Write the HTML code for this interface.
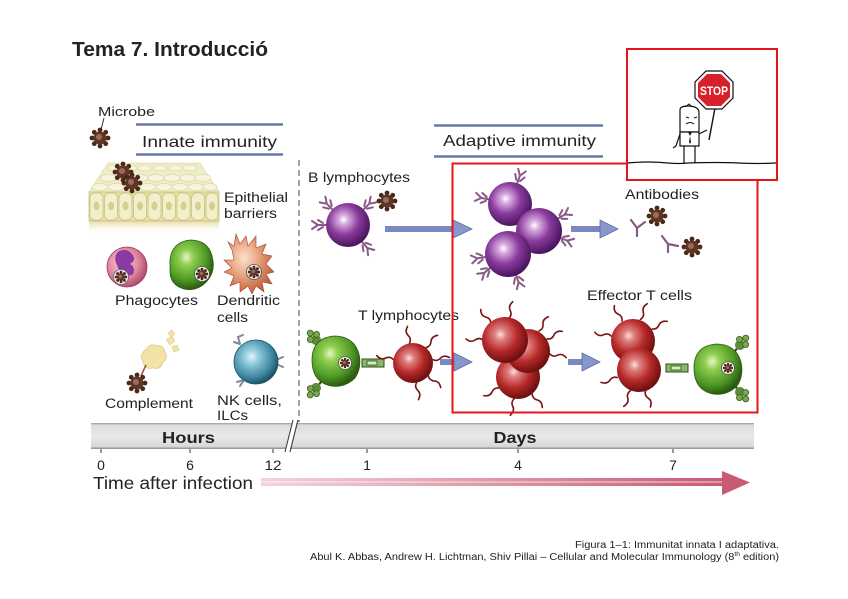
<!DOCTYPE html>
<html><head><meta charset="utf-8"><style>
html,body{margin:0;padding:0;background:#fff;}
svg{display:block;}
text{font-family:"Liberation Sans",sans-serif;fill:#222;}
</style></head><body>
<svg width="848" height="599" viewBox="0 0 848 599" xmlns="http://www.w3.org/2000/svg">
<defs>
<radialGradient id="gP" cx="0.4" cy="0.38" r="0.62"><stop offset="0" stop-color="#fff"/><stop offset="0.18" stop-color="#d6a8de"/><stop offset="0.55" stop-color="#8a3c9c"/><stop offset="1" stop-color="#4a1660"/></radialGradient>
<radialGradient id="gR" cx="0.4" cy="0.38" r="0.62"><stop offset="0" stop-color="#fbe0e0"/><stop offset="0.2" stop-color="#e08080"/><stop offset="0.6" stop-color="#b52828"/><stop offset="1" stop-color="#6e0f10"/></radialGradient>
<radialGradient id="gG" cx="0.38" cy="0.35" r="0.65"><stop offset="0" stop-color="#e6f8c8"/><stop offset="0.25" stop-color="#8fce50"/><stop offset="0.7" stop-color="#4f9a25"/><stop offset="1" stop-color="#2c5c12"/></radialGradient>
<radialGradient id="gB" cx="0.4" cy="0.38" r="0.62"><stop offset="0" stop-color="#e0f4f8"/><stop offset="0.3" stop-color="#8cc6d8"/><stop offset="0.75" stop-color="#3f88a2"/><stop offset="1" stop-color="#1f5668"/></radialGradient>
<radialGradient id="gK" cx="0.4" cy="0.4" r="0.62"><stop offset="0" stop-color="#f6d2dc"/><stop offset="0.6" stop-color="#e28aa2"/><stop offset="1" stop-color="#b04c6c"/></radialGradient>
<radialGradient id="gO" cx="0.4" cy="0.4" r="0.62"><stop offset="0" stop-color="#fbe0cc"/><stop offset="0.5" stop-color="#e8a07c"/><stop offset="1" stop-color="#c0603c"/></radialGradient>
<linearGradient id="gArr" x1="0" x2="1" y1="0" y2="0"><stop offset="0" stop-color="#f4d4dc"/><stop offset="1" stop-color="#c85a72"/></linearGradient>
<linearGradient id="gBar" x1="0" x2="0" y1="0" y2="1"><stop offset="0" stop-color="#9a9a9a"/><stop offset="0.08" stop-color="#dcdcdc"/><stop offset="0.5" stop-color="#e8e8e8"/><stop offset="0.9" stop-color="#dadada"/><stop offset="1" stop-color="#8a8a8a"/></linearGradient>
<linearGradient id="gShadow" x1="0" x2="0" y1="0" y2="1"><stop offset="0" stop-color="#e4d49a"/><stop offset="1" stop-color="#fff" stop-opacity="0"/></linearGradient>
<linearGradient id="gBlue" x1="0" x2="0" y1="0" y2="1"><stop offset="0" stop-color="#aab6d6"/><stop offset="0.5" stop-color="#5a6aa0"/><stop offset="1" stop-color="#aab6d6"/></linearGradient>
<g id="mic"><g fill="#4a2818"><circle cx="0" cy="-8" r="2.4"/><circle cx="0" cy="8" r="2.4"/><circle cx="-8" cy="0" r="2.4"/><circle cx="8" cy="0" r="2.4"/><circle cx="5.7" cy="5.7" r="2.4"/><circle cx="-5.7" cy="5.7" r="2.4"/><circle cx="5.7" cy="-5.7" r="2.4"/><circle cx="-5.7" cy="-5.7" r="2.4"/></g><circle r="6.5" fill="#5e3626"/><circle cx="-1" cy="-1" r="3" fill="#a0685a"/></g>
<g id="yr" fill="none" stroke="#8a5a86" stroke-width="2" stroke-linecap="round"><path d="M0,0 L0,-9 M0,-9 L-4,-15 M0,-9 L4,-15 M-2,-4 L-5,-9 M2,-4 L5,-9"/></g>
<g id="tr" fill="none" stroke="#7a1414" stroke-width="1.6" stroke-linecap="round"><path d="M0,0 q3,-4 0,-8 q-3,-4 1,-9"/></g>
<g id="mhc"><circle r="5" fill="#5c8c3a"/><circle cx="-4" cy="-4" r="3" fill="#7aa84c" stroke="#3a5a20" stroke-width="0.8"/><circle cx="4" cy="-4" r="3" fill="#7aa84c" stroke="#3a5a20" stroke-width="0.8"/><circle cx="0" cy="-9" r="3" fill="#7aa84c" stroke="#3a5a20" stroke-width="0.8"/><line x1="0" y1="5" x2="0" y2="11" stroke="#4a2a1a" stroke-width="2"/></g>
<g id="tcr"><rect x="-11" y="-4" width="22" height="8" fill="#8ab868" stroke="#2e4e18" stroke-width="1"/><rect x="-6" y="-2" width="10" height="4" fill="#d8ecc8" stroke="#2e4e18" stroke-width="0.8"/></g>
<g id="barr"><path d="M-4,0 L4,0 L4,-10 L-4,-10 Z" fill="#6a7cb4"/><path d="M4,-16 L20,-5 L4,6 Z" fill="#8898c8" stroke="#5a6aa0" stroke-width="1"/></g>
</defs>

<!-- Title -->
<text x="72" y="56" font-size="20" font-weight="bold" fill="#111" textLength="196" lengthAdjust="spacingAndGlyphs">Tema 7. Introducció</text>

<!-- Microbe -->
<text x="98" y="116" font-size="13" textLength="57" lengthAdjust="spacingAndGlyphs">Microbe</text>
<line x1="104" y1="118" x2="101" y2="130" stroke="#333" stroke-width="1"/>
<use href="#mic" x="100" y="138"/>

<!-- Innate immunity header -->
<rect x="136" y="123" width="147" height="3" fill="url(#gBlue)"/>
<rect x="136" y="153" width="147" height="3" fill="url(#gBlue)"/>
<text x="142" y="147" font-size="16" textLength="135" lengthAdjust="spacingAndGlyphs">Innate immunity</text>

<!-- Adaptive immunity header -->
<rect x="434" y="124" width="169" height="3" fill="url(#gBlue)"/>
<rect x="434" y="155" width="169" height="3" fill="url(#gBlue)"/>
<text x="443" y="146" font-size="16" textLength="153" lengthAdjust="spacingAndGlyphs">Adaptive immunity</text>

<!-- dashed separator -->
<line x1="299" y1="160" x2="299" y2="422" stroke="#444" stroke-width="1" stroke-dasharray="6,4"/>

<!-- Epithelial -->
<rect x="89" y="220" width="130" height="14" fill="url(#gShadow)"/>
<path d="M89,192 L108,163 L200,163 L219,192 Z" fill="#efedc6" stroke="#d8d4a0" stroke-width="0.6"/>
<g fill="#f6f4dc" stroke="#d4d0a0" stroke-width="0.6">
<ellipse cx="115" cy="168" rx="7" ry="3"/><ellipse cx="130" cy="168" rx="7" ry="3"/><ellipse cx="145" cy="168" rx="7" ry="3"/><ellipse cx="160" cy="168" rx="7" ry="3"/><ellipse cx="175" cy="168" rx="7" ry="3"/><ellipse cx="190" cy="168" rx="7" ry="3"/>
<ellipse cx="108" cy="178" rx="8" ry="3.5"/><ellipse cx="124" cy="178" rx="8" ry="3.5"/><ellipse cx="140" cy="178" rx="8" ry="3.5"/><ellipse cx="156" cy="178" rx="8" ry="3.5"/><ellipse cx="172" cy="178" rx="8" ry="3.5"/><ellipse cx="188" cy="178" rx="8" ry="3.5"/><ellipse cx="203" cy="178" rx="8" ry="3.5"/>
<ellipse cx="100" cy="187" rx="8" ry="3.5"/><ellipse cx="116" cy="187" rx="8" ry="3.5"/><ellipse cx="132" cy="187" rx="8" ry="3.5"/><ellipse cx="148" cy="187" rx="8" ry="3.5"/><ellipse cx="164" cy="187" rx="8" ry="3.5"/><ellipse cx="180" cy="187" rx="8" ry="3.5"/><ellipse cx="196" cy="187" rx="8" ry="3.5"/><ellipse cx="210" cy="187" rx="7" ry="3.5"/>
</g>
<rect x="89" y="192" width="130" height="29" fill="#e6e2a4" stroke="#c8c280" stroke-width="0.8"/>
<g fill="#f2f0cc" stroke="#c8c280" stroke-width="0.8">
<rect x="90" y="193" width="13" height="27" rx="5"/><rect x="104.5" y="193" width="13" height="27" rx="5"/><rect x="119" y="193" width="13" height="27" rx="5"/><rect x="133.5" y="193" width="13" height="27" rx="5"/><rect x="148" y="193" width="13" height="27" rx="5"/><rect x="162.5" y="193" width="13" height="27" rx="5"/><rect x="177" y="193" width="13" height="27" rx="5"/><rect x="191.5" y="193" width="13" height="27" rx="5"/><rect x="206" y="193" width="12" height="27" rx="5"/>
</g>
<g fill="#d4d090"><ellipse cx="96.5" cy="206" rx="3" ry="4.5"/><ellipse cx="111" cy="206" rx="3" ry="4.5"/><ellipse cx="125.5" cy="206" rx="3" ry="4.5"/><ellipse cx="140" cy="206" rx="3" ry="4.5"/><ellipse cx="154.5" cy="206" rx="3" ry="4.5"/><ellipse cx="169" cy="206" rx="3" ry="4.5"/><ellipse cx="183.5" cy="206" rx="3" ry="4.5"/><ellipse cx="198" cy="206" rx="3" ry="4.5"/><ellipse cx="212" cy="206" rx="3" ry="4.5"/></g>
<use href="#mic" x="123" y="172"/><use href="#mic" x="132" y="183"/>
<text x="224" y="202" font-size="13.5" textLength="64" lengthAdjust="spacingAndGlyphs">Epithelial</text>
<text x="224" y="218" font-size="13.5" textLength="53" lengthAdjust="spacingAndGlyphs">barriers</text>

<!-- Phagocytes -->
<circle cx="127" cy="267" r="20" fill="url(#gK)" stroke="#9a3a5a" stroke-width="0.8"/>
<path d="M118,252 q8,-5 14,2 q5,6 -2,10 q6,3 3,10 q-5,4 -8,-3 q-6,2 -8,-6 q-4,-8 1,-13 z" fill="#8a3aa0"/>
<circle cx="121" cy="277" r="7.5" fill="#f4f0f4" stroke="#666" stroke-width="0.8"/><use href="#mic" transform="translate(121 277) scale(0.6)"/>
<path d="M170,260 q2,-18 20,-20 q18,0 22,16 q4,14 -4,24 q-10,12 -24,9 q-14,-4 -14,-18 z" fill="url(#gG)" stroke="#2c5c12" stroke-width="0.8"/>
<circle cx="202" cy="274" r="7.5" fill="#f4f4ee" stroke="#555" stroke-width="0.8"/><use href="#mic" transform="translate(202 274) scale(0.6)"/>
<!-- Dendritic -->
<path d="M232,250 l-4,-8 l6,4 l2,-12 l4,10 l6,-8 l2,10 l8,-10 l0,12 l10,-4 l-4,10 l10,2 l-6,8 l8,8 l-8,2 l6,10 l-10,-2 l2,10 l-8,-6 l-4,8 l-4,-8 l-8,6 l0,-10 l-10,4 l4,-10 l-10,-4 l8,-4 l-8,-8 l10,0 z" fill="url(#gO)" stroke="#a04a2a" stroke-width="0.6"/>
<circle cx="254" cy="272" r="7.5" fill="#f4f0ee" stroke="#555" stroke-width="0.8"/><use href="#mic" transform="translate(254 272) scale(0.6)"/>
<text x="115" y="305" font-size="13.5" textLength="83" lengthAdjust="spacingAndGlyphs">Phagocytes</text>
<text x="217" y="305" font-size="13.5" textLength="63" lengthAdjust="spacingAndGlyphs">Dendritic</text>
<text x="217" y="322" font-size="13.5" textLength="31" lengthAdjust="spacingAndGlyphs">cells</text>

<!-- Complement -->
<path d="M145,350 q6,-8 12,-4 q6,-2 8,6 q4,6 -2,10 q-2,8 -10,6 q-8,2 -10,-6 q-4,-6 2,-12 z" fill="#f2e2a8" stroke="#d8c070" stroke-width="0.6"/>
<path d="M166,340 l6,-4 l3,5 l-5,4 z" fill="#f2e2a8" stroke="#d8c070" stroke-width="0.5"/>
<path d="M172,347 l5,-2 l2,5 l-5,2 z" fill="#f2e2a8" stroke="#d8c070" stroke-width="0.5"/>
<path d="M168,333 l4,-3 l3,4 l-4,3 z" fill="#f2e2a8" stroke="#d8c070" stroke-width="0.5"/>
<line x1="141" y1="376" x2="146" y2="365" stroke="#a04040" stroke-width="1.5"/>
<use href="#mic" x="137" y="383"/>
<text x="105" y="408" font-size="13.5" textLength="88" lengthAdjust="spacingAndGlyphs">Complement</text>

<!-- NK -->
<g fill="none" stroke="#7a8a9a" stroke-width="2" stroke-linecap="round"><path d="M240,344 l-2,-7 l5,-2 M240,344 l-6,-2"/><path d="M276,360 l7,-3 M276,364 l7,3"/><path d="M244,380 l-4,6 M244,380 l-7,2"/></g>
<circle cx="256" cy="362" r="22" fill="url(#gB)" stroke="#1f5668" stroke-width="0.8"/>
<text x="217" y="405" font-size="13.5" textLength="65" lengthAdjust="spacingAndGlyphs">NK cells,</text>
<text x="217" y="420" font-size="13.5" textLength="31" lengthAdjust="spacingAndGlyphs">ILCs</text>

<!-- B lymphocyte -->
<text x="308" y="182" font-size="14" textLength="102" lengthAdjust="spacingAndGlyphs">B lymphocytes</text>
<use href="#yr" transform="translate(348 225) rotate(45) translate(0 -21)"/>
<use href="#yr" transform="translate(348 225) rotate(-90) translate(0 -21)"/>
<use href="#yr" transform="translate(348 225) rotate(140) translate(0 -21)"/>
<use href="#yr" transform="translate(348 225) rotate(-45) translate(0 -21)"/>
<circle cx="348" cy="225" r="22" fill="url(#gP)"/>
<use href="#mic" x="387" y="201"/>
<!-- arrow 1 -->
<rect x="385" y="226" width="70" height="6" fill="#7a8ac0"/>
<path d="M453,220 L472,229 L453,238 Z" fill="#8898cc" stroke="#5a6aa0" stroke-width="0.8"/>

<!-- Purple cluster -->
<use href="#yr" transform="translate(510 203) rotate(20) translate(0 -20)"/>
<use href="#yr" transform="translate(510 203) rotate(-80) translate(0 -20)"/>
<use href="#yr" transform="translate(538 230) rotate(60) translate(0 -22)"/>
<use href="#yr" transform="translate(538 230) rotate(110) translate(0 -22)"/>
<use href="#yr" transform="translate(508 253) rotate(-100) translate(0 -22)"/>
<use href="#yr" transform="translate(508 253) rotate(160) translate(0 -22)"/>
<use href="#yr" transform="translate(508 253) rotate(-130) translate(0 -22)"/>
<circle cx="510" cy="204" r="22" fill="url(#gP)"/>
<circle cx="539" cy="231" r="23" fill="url(#gP)"/>
<circle cx="508" cy="254" r="23" fill="url(#gP)"/>
<!-- arrow 2 -->
<rect x="571" y="226" width="32" height="6" fill="#7a8ac0"/>
<path d="M600,220 L618,229 L600,238 Z" fill="#8898cc" stroke="#5a6aa0" stroke-width="0.8"/>
<!-- Antibodies -->
<text x="625" y="199" font-size="14" textLength="74" lengthAdjust="spacingAndGlyphs">Antibodies</text>
<g fill="none" stroke="#8a5a86" stroke-width="2.2" stroke-linecap="round"><path d="M637,236 L637,228 L631,220 M637,228 L645,222"/><path d="M668,252 L668,244 L662,236 M668,244 L678,246"/></g>
<use href="#mic" x="657" y="216"/><use href="#mic" x="692" y="247"/>

<!-- T lymphocytes row -->
<text x="358" y="320" font-size="14" textLength="101" lengthAdjust="spacingAndGlyphs">T lymphocytes</text>
<use href="#mhc" transform="translate(316 340) rotate(-40)"/>
<use href="#mhc" transform="translate(316 388) rotate(220)"/>
<path d="M312,360 q0,-22 22,-24 q20,0 25,18 q3,14 -4,24 q-10,10 -24,8 q-19,-4 -19,-26 z" fill="url(#gG)" stroke="#2c5c12" stroke-width="0.8"/>
<circle cx="345" cy="363" r="6.5" fill="#f2f2ee" stroke="#555" stroke-width="0.8"/><use href="#mic" transform="translate(345 363) scale(0.5)"/>
<use href="#tcr" x="373" y="363"/>
<use href="#tr" transform="translate(413 363) rotate(40) translate(0 -20)"/>
<use href="#tr" transform="translate(413 363) rotate(80) translate(0 -20)"/>
<use href="#tr" transform="translate(413 363) rotate(130) translate(0 -20)"/>
<use href="#tr" transform="translate(413 363) rotate(170) translate(0 -20)"/>
<use href="#tr" transform="translate(413 363) rotate(-10) translate(0 -20)"/>
<use href="#tr" transform="translate(413 363) rotate(-80) translate(0 -20)"/>
<circle cx="413" cy="363" r="20" fill="url(#gR)"/>
<!-- arrow 3 -->
<rect x="440" y="359" width="16" height="6" fill="#7a8ac0"/>
<path d="M454,353 L472,362 L454,371 Z" fill="#8898cc" stroke="#5a6aa0" stroke-width="0.8"/>
<!-- Red cluster 1 -->
<g>
<use href="#tr" transform="translate(505 340) rotate(-40) translate(0 -22)"/>
<use href="#tr" transform="translate(505 340) rotate(-90) translate(0 -22)"/>
<use href="#tr" transform="translate(505 340) rotate(10) translate(0 -22)"/>
<use href="#tr" transform="translate(528 350) rotate(60) translate(0 -22)"/>
<use href="#tr" transform="translate(528 350) rotate(100) translate(0 -22)"/>
<use href="#tr" transform="translate(518 377) rotate(140) translate(0 -22)"/>
<use href="#tr" transform="translate(518 377) rotate(190) translate(0 -22)"/>
<use href="#tr" transform="translate(518 377) rotate(-120) translate(0 -22)"/>
<use href="#tr" transform="translate(528 350) rotate(30) translate(0 -22)"/>
</g>
<circle cx="518" cy="377" r="22" fill="url(#gR)"/>
<circle cx="528" cy="351" r="22" fill="url(#gR)"/>
<circle cx="505" cy="340" r="23" fill="url(#gR)"/>
<!-- arrow 4 -->
<rect x="568" y="359" width="16" height="6" fill="#7a8ac0"/>
<path d="M582,353 L600,362 L582,371 Z" fill="#8898cc" stroke="#5a6aa0" stroke-width="0.8"/>
<text x="587" y="300" font-size="14" textLength="105" lengthAdjust="spacingAndGlyphs">Effector T cells</text>
<!-- Red cluster 2 -->
<use href="#tr" transform="translate(633 340) rotate(-30) translate(0 -22)"/>
<use href="#tr" transform="translate(633 340) rotate(20) translate(0 -22)"/>
<use href="#tr" transform="translate(633 340) rotate(-80) translate(0 -22)"/>
<use href="#tr" transform="translate(638 370) rotate(-110) translate(0 -22)"/>
<use href="#tr" transform="translate(638 370) rotate(160) translate(0 -22)"/>
<use href="#tr" transform="translate(638 370) rotate(200) translate(0 -22)"/>
<use href="#tr" transform="translate(633 340) rotate(60) translate(0 -22)"/>
<circle cx="633" cy="341" r="22" fill="url(#gR)"/>
<circle cx="639" cy="370" r="22" fill="url(#gR)"/>
<use href="#tcr" x="677" y="368"/>
<use href="#mhc" transform="translate(740 345) rotate(40)"/>
<use href="#mhc" transform="translate(740 392) rotate(140)"/>
<path d="M694,368 q0,-22 22,-24 q20,0 25,18 q3,14 -4,24 q-10,10 -24,8 q-19,-4 -19,-26 z" fill="url(#gG)" stroke="#2c5c12" stroke-width="0.8"/>
<circle cx="728" cy="368" r="6.5" fill="#f2f2ee" stroke="#555" stroke-width="0.8"/><use href="#mic" transform="translate(728 368) scale(0.5)"/>

<!-- Red boxes -->
<rect x="452.5" y="163.5" width="305" height="249" fill="none" stroke="#e8141c" stroke-width="2"/>
<rect x="627" y="49" width="150" height="131" fill="#fff" stroke="#e8141c" stroke-width="2"/>
<!-- Stop cartoon -->
<path d="M628,163 q20,-2 40,0 q10,1 20,0 q30,-1 50,0 q20,1 38,0" fill="none" stroke="#111" stroke-width="1.2"/>
<line x1="715" y1="108" x2="709" y2="140" stroke="#111" stroke-width="1.4"/>
<polygon points="706,71 722,71 733,82 733,98 722,109 706,109 695,98 695,82" fill="#fff" stroke="#111" stroke-width="1.2"/>
<polygon points="707,74 721,74 730,83 730,97 721,106 707,106 698,97 698,83" fill="#d8202a"/>
<text x="700" y="95" font-size="12" fill="#fff" style="fill:#fff" font-weight="bold" textLength="28" lengthAdjust="spacingAndGlyphs">STOP</text>
<path d="M680,110 q0,-4 8,-4 q10,0 11,6 l0,20 l-19,0 z" fill="#fff" stroke="#111" stroke-width="1.2"/>
<path d="M685,107 l4,-3 l3,3" fill="none" stroke="#111" stroke-width="1"/>
<path d="M686,117 l3,1 M694,118 l3,-1 M686,124 q4,-3 8,0" fill="none" stroke="#111" stroke-width="1"/>
<path d="M680,132 l19,0 l0,14 l-19,0 z" fill="#fff" stroke="#111" stroke-width="1.2"/>
<path d="M688,132 l2,4 l-1,6 l1,2 l1,-2 l-1,-6 l2,-4" fill="#111"/>
<path d="M680,134 l-4,12 l-3,2" fill="none" stroke="#111" stroke-width="1.2"/>
<path d="M699,134 l8,-4" fill="none" stroke="#111" stroke-width="1.2"/>
<path d="M684,146 l0,17 M695,146 l0,17" stroke="#111" stroke-width="1.2"/>

<!-- Timeline bar -->
<rect x="91" y="423" width="663" height="26" fill="url(#gBar)"/>
<path d="M285,452 L293,420 L297,420 L289,452 Z" fill="#fff"/>
<path d="M285,452 L293,420 M290,452 L298,420" stroke="#333" stroke-width="1"/>
<text x="188.5" y="443" font-size="16" font-weight="bold" text-anchor="middle" textLength="53" lengthAdjust="spacingAndGlyphs">Hours</text>
<text x="515" y="443" font-size="16" font-weight="bold" text-anchor="middle" textLength="43" lengthAdjust="spacingAndGlyphs">Days</text>
<g stroke="#333" stroke-width="1"><line x1="101" y1="449" x2="101" y2="453"/><line x1="190" y1="449" x2="190" y2="453"/><line x1="273" y1="449" x2="273" y2="453"/><line x1="367" y1="449" x2="367" y2="453"/><line x1="518" y1="449" x2="518" y2="453"/><line x1="673" y1="449" x2="673" y2="453"/></g>
<g font-size="14" text-anchor="middle"><text x="101" y="470">0</text><text x="190" y="470">6</text><text x="273" y="470" textLength="17" lengthAdjust="spacingAndGlyphs">12</text><text x="367" y="470">1</text><text x="518" y="470">4</text><text x="673" y="470">7</text></g>
<text x="93" y="489" font-size="17.5" textLength="160" lengthAdjust="spacingAndGlyphs">Time after infection</text>
<rect x="261" y="478" width="463" height="8" fill="url(#gArr)"/>
<line x1="261" y1="482" x2="724" y2="482" stroke="#fff" stroke-opacity="0.6" stroke-width="1.2"/>
<path d="M722,471 L750,482.5 L722,495 Z" fill="#c85a72"/>

<!-- Caption -->
<text x="779" y="548" font-size="10" text-anchor="end" fill="#222" textLength="204" lengthAdjust="spacingAndGlyphs">Figura 1–1: Immunitat innata I adaptativa.</text>
<text x="310" y="560" font-size="10" fill="#222" textLength="469" lengthAdjust="spacingAndGlyphs">Abul K. Abbas, Andrew H. Lichtman, Shiv Pillai – Cellular and Molecular Immunology (8<tspan font-size="6" dy="-4">th</tspan><tspan dy="4"> edition)</tspan></text>
</svg>
</body></html>
